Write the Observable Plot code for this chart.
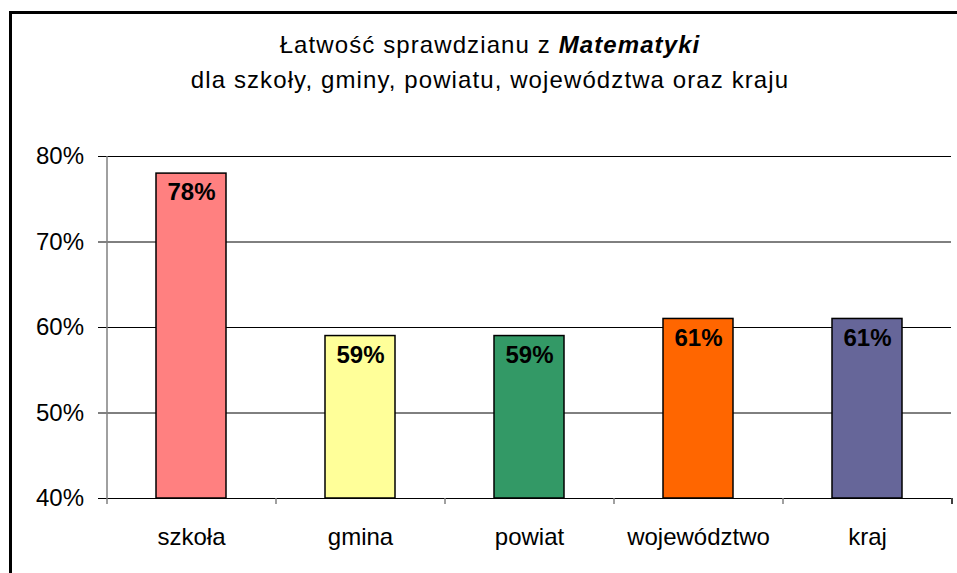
<!DOCTYPE html>
<html>
<head>
<meta charset="utf-8">
<script src="https://cdn.jsdelivr.net/npm/d3@7"></script>
<script src="https://cdn.jsdelivr.net/npm/@observablehq/plot@0.6"></script>
<style>
  body { margin: 0; background: #fff; }
  #wrap { position: relative; width: 957px; height: 573px; overflow: hidden; font-family: "Liberation Sans", Arial, sans-serif; }
  #frame { position: absolute; left: 9px; top: 11px; width: 1000px; height: 1000px; border: 3px solid #000; box-sizing: border-box; }
  #title { position: absolute; left: 10px; width: 960px; top: 27px; text-align: center; font-size: 24px; letter-spacing: 1.1px; line-height: 35px; color: #000; }
  #chart { position: absolute; left: 0; top: 0; }
</style>
</head>
<body>
<div id="wrap">
  <div id="frame"></div>
  <div id="title">Łatwość sprawdzianu z <b><i>Matematyki</i></b><br>dla szkoły, gminy, powiatu, województwa oraz kraju</div>
  <div id="chart"></div>
</div>
<script>
const categories = ["szkoła", "gmina", "powiat", "województwo", "kraj"];
const values = [0.78, 0.59, 0.59, 0.61, 0.61];
const colors = ["#FF8080", "#FFFF99", "#339966", "#FF6600", "#666699"];
const yTicks = [0.4, 0.5, 0.6, 0.7, 0.8];
const yMin = 0.4, yMax = 0.8;

const data = categories.map((c, i) => ({ cat: c, value: values[i], color: colors[i] }));
const W = 957, mL = 106, mR = 6;
const step = (W - mL - mR) / categories.length;
const half = step / 2;

const chart = Plot.plot({
  width: W,
  height: 573,
  marginLeft: mL,
  marginRight: mR,
  marginTop: 156,
  marginBottom: 75,
  style: { fontFamily: "'Liberation Sans', Arial, sans-serif", background: "transparent", overflow: "visible" },
  x: { type: "band", domain: categories, paddingInner: 0.586, paddingOuter: 0.293, axis: null },
  y: { type: "linear", domain: [yMin, yMax], axis: null },
  marks: [
    // gridlines, extended left to form the y tick marks
    Plot.ruleY(yTicks, { y: d => d, stroke: "#000", strokeWidth: 1, insetLeft: -8 }),
    // y axis line (gray)
    Plot.ruleX([categories[0]], { x: d => d, dx: -half, y1: yMin, y2: yMax, stroke: "#808080", strokeWidth: 1.5 }),
    // x tick marks at band boundaries
    Plot.ruleX(categories, { x: d => d, dx: -half, y1: yMin, y2: yMin, insetBottom: -6, stroke: "#808080", strokeWidth: 1.5 }),
    Plot.ruleX([categories[categories.length - 1]], { x: d => d, dx: half, y1: yMin, y2: yMin, insetBottom: -6, stroke: "#000", strokeWidth: 1.5 }),
    Plot.barY(data, { x: "cat", y1: yMin, y2: "value", fill: "color", stroke: "#000", strokeWidth: 1.5 }),
    Plot.text(yTicks, { x: () => categories[0], y: d => d, dx: -half - 23, text: d => Math.round(d * 100) + "%", textAnchor: "end", fontSize: 24, fill: "#000" }),
    Plot.text(data, { x: "cat", y: "value", dy: 19, text: d => Math.round(d.value * 100) + "%", fontSize: 24, fontWeight: "bold", fill: "#000", letterSpacing: 0.5 }),
    Plot.text(categories, { x: d => d, y: () => yMin, dy: 39, text: d => d, fontSize: 24, fill: "#000", letterSpacing: 0.8 })
  ]
});

document.getElementById("chart").appendChild(chart);
</script>
</body>
</html>
